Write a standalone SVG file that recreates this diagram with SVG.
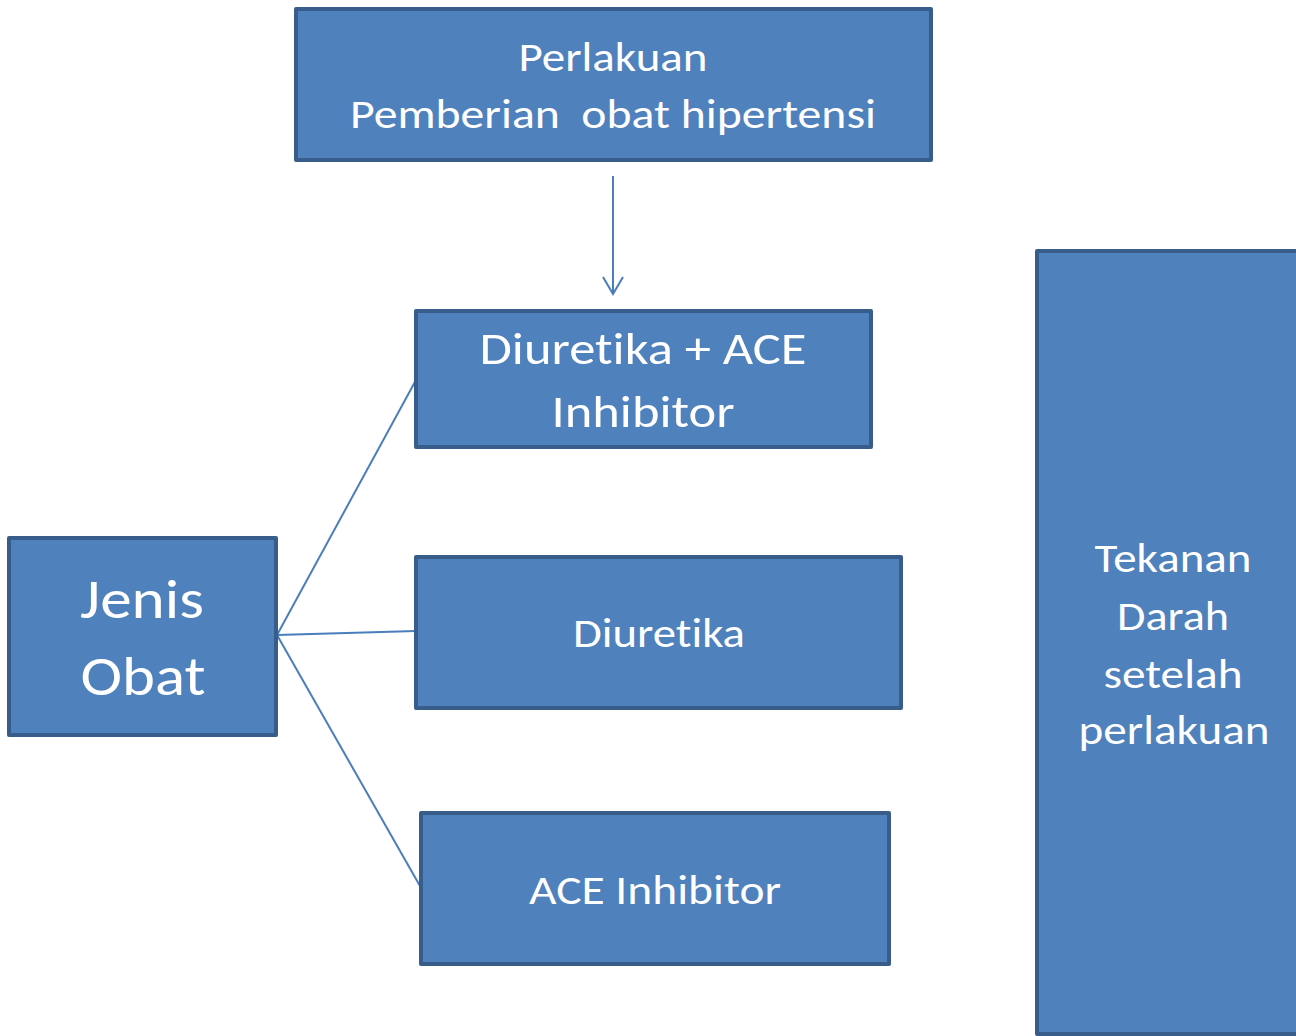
<svg xmlns="http://www.w3.org/2000/svg" width="1296" height="1036" viewBox="0 0 1296 1036">
<style>
.box{fill:#4F81BD;stroke:#385D8A;stroke-width:4;stroke-linejoin:round}
.t{fill:#FFFFFF;font-family:Carlito,Calibri,"Open Sans","Noto Sans",sans-serif;text-anchor:middle;font-variant-ligatures:none;font-feature-settings:"liga" 0}
.c{stroke:#4A7EBB;stroke-width:2;fill:none}
</style>
<rect width="1296" height="1036" fill="#FFFFFF"/>
<g id="connectors">
<line class="c" x1="613" y1="176" x2="613" y2="294"/>
<polyline class="c" points="603,277 613,294 623,277"/>
<line class="c" x1="277" y1="635" x2="416" y2="380"/>
<line class="c" x1="277" y1="635" x2="416" y2="631"/>
<line class="c" x1="277" y1="635" x2="420" y2="886"/>
</g>
<g id="perlakuan">
<rect class="box" x="296" y="9" width="635" height="151"/>
<text class="t" font-size="42" x="613" y="71" textLength="189" lengthAdjust="spacingAndGlyphs">Perlakuan</text>
<text class="t" font-size="42" x="613" y="128" textLength="526" lengthAdjust="spacingAndGlyphs" xml:space="preserve">Pemberian  obat hipertensi</text>
</g>
<g id="diuretika-ace">
<rect class="box" x="416" y="311" width="455" height="136"/>
<text class="t" font-size="46" x="643" y="364" textLength="327" lengthAdjust="spacingAndGlyphs">Diuretika + ACE</text>
<text class="t" font-size="46" x="643" y="427" textLength="183" lengthAdjust="spacingAndGlyphs">Inhibitor</text>
</g>
<g id="diuretika">
<rect class="box" x="416" y="557" width="485" height="151"/>
<text class="t" font-size="42" x="659" y="647" textLength="172" lengthAdjust="spacingAndGlyphs">Diuretika</text>
</g>
<g id="ace-inhibitor">
<rect class="box" x="421" y="813" width="468" height="151"/>
<text class="t" font-size="42" x="655" y="904" textLength="252" lengthAdjust="spacingAndGlyphs">ACE Inhibitor</text>
</g>
<g id="jenis-obat">
<rect class="box" x="9" y="538" width="267" height="197"/>
<text class="t" font-size="56" x="142" y="618" textLength="124" lengthAdjust="spacingAndGlyphs">Jenis</text>
<text class="t" font-size="56" x="143" y="695" textLength="125" lengthAdjust="spacingAndGlyphs">Obat</text>
</g>
<g id="tekanan-darah">
<rect class="box" x="1037" y="251" width="270" height="783"/>
<text class="t" font-size="42" x="1173" y="572" textLength="157" lengthAdjust="spacingAndGlyphs">Tekanan</text>
<text class="t" font-size="42" x="1173" y="630" textLength="112" lengthAdjust="spacingAndGlyphs">Darah</text>
<text class="t" font-size="42" x="1173" y="688" textLength="139" lengthAdjust="spacingAndGlyphs">setelah</text>
<text class="t" font-size="42" x="1174" y="744" textLength="191" lengthAdjust="spacingAndGlyphs">perlakuan</text>
</g>
</svg>
